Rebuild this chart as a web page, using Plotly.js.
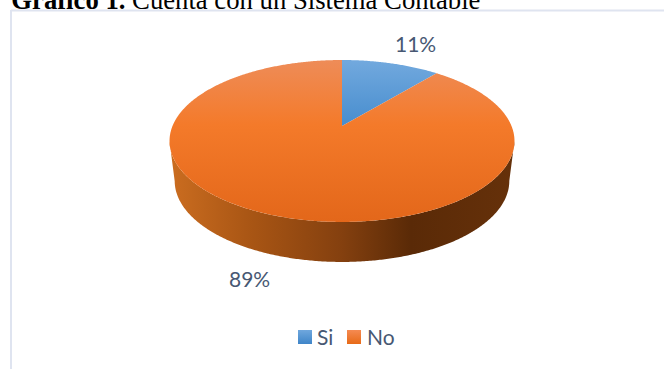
<!DOCTYPE html>
<html>
<head>
<meta charset="utf-8">
<script src="https://cdn.plot.ly/plotly-3.0.1.min.js"></script>
<style>html,body{margin:0;padding:0;background:#fff;overflow:hidden}#chart{width:664px;height:369px}</style>
</head>
<body>
<div id="chart"></div>
<script>
// Survey result: does the business have an accounting system?
const categories = ['Si', 'No'];
const shares = [11, 89];
// Gradient stops run from the near edge of the disc to the far edge.
const sliceGradients = [
  [[0, '#478dce'], [1, '#72a9de']],
  [[0, '#e3671a'], [0.6, '#f47a2a'], [1, '#ee8c58']]
];
const keyColors = [['#6fa7dd', '#3f85c8'], ['#f58a52', '#e76a17']];
const labelFont = {family: 'Lato, Carlito, sans-serif', size: 21, color: '#475873'};

// Tilted disc: a unit circle seen in perspective, mapped on to the plot.
const cam = {cx: 342, cy: 126, sx: 169.5, sy: 78.2, k: 0.185, depth: 40, baseScale: 0.97};

function project(deg, r) {
  const t = deg * Math.PI / 180;
  const u = r * Math.sin(t), v = r * Math.cos(t);
  const w = 1 + cam.k * v;
  return [cam.cx + cam.sx * u / w, cam.cy - cam.sy * v / w];
}
function projectBase(deg) {
  const [x, y] = project(deg, 1);
  return [cam.cx + cam.baseScale * (x - cam.cx), y + cam.depth];
}
function wedge(from, to) {
  const xs = [cam.cx], ys = [cam.cy];
  for (let d = from; d < to; d += 0.5) {
    const p = project(d, 1); xs.push(p[0]); ys.push(p[1]);
  }
  const e = project(to, 1); xs.push(e[0]); ys.push(e[1]);
  xs.push(cam.cx); ys.push(cam.cy);
  return {xs, ys};
}

// The rim runs along the near side of the disc, between its widest points.
const rimStart = 90 + Math.asin(cam.k) * 180 / Math.PI;
const rimEnd = 360 - rimStart;
const rimX = [], rimY = [], baseX = [], baseY = [];
for (let d = rimStart; d <= rimEnd; d += 0.5) {
  const a = project(d, 1), b = projectBase(d);
  rimX.push(a[0]); rimY.push(a[1]);
  baseX.push(b[0]); baseY.push(b[1]);
}
const wall = {
  type: 'scatter', mode: 'none', hoverinfo: 'skip', showlegend: false,
  x: rimX.concat(baseX.slice().reverse(), rimX[0]),
  y: rimY.concat(baseY.slice().reverse(), rimY[0]),
  fill: 'toself',
  fillgradient: {
    type: 'horizontal',
    colorscale: [[0, '#cb6d20'], [0.24, '#a85514'], [0.5, '#84400f'], [0.7, '#5a2a07'], [1, '#66310a']]
  }
};

// Top face: one wedge per category, clockwise from twelve o'clock.
const total = shares.reduce((a, b) => a + b, 0);
let start = 0;
const faces = shares.map((value, i) => {
  const end = start + value / total * 360;
  const shape = wedge(start, end);
  start = end;
  return {
    type: 'scatter', mode: 'none', name: categories[i], hoverinfo: 'name', showlegend: false,
    x: shape.xs, y: shape.ys, fill: 'toself',
    fillgradient: {type: 'vertical', colorscale: sliceGradients[i]}
  };
});

// Legend keys below the pie.
const keyX = [305, 354], textX = [317, 367], legendY = 337;
const keys = categories.map((name, i) => ({
  type: 'scatter', mode: 'markers', hoverinfo: 'skip', showlegend: false,
  x: [keyX[i]], y: [legendY],
  marker: {
    symbol: 'square', size: 14, color: keyColors[i][0],
    gradient: {type: 'vertical', color: keyColors[i][1]}, line: {width: 0}
  }
}));

const labelPos = [[415, 43], [249, 278.5]];
const annotations = shares.map((value, i) => ({
  xref: 'x', yref: 'y', x: labelPos[i][0], y: labelPos[i][1],
  text: value + '%', showarrow: false, font: labelFont
})).concat(categories.map((name, i) => ({
  xref: 'x', yref: 'y', x: textX[i], y: legendY - 1, xanchor: 'left',
  text: name, showarrow: false, font: labelFont, xshift: -2
})));

const frame = {color: '#dfe4f0', width: 2};
const layout = {
  width: 664, height: 369,
  margin: {l: 0, r: 0, t: 0, b: 0},
  paper_bgcolor: '#ffffff', plot_bgcolor: '#ffffff',
  showlegend: false,
  title: {
    text: '<b>Gráfico 1.</b> Cuenta con un Sistema Contable',
    font: {family: '"Liberation Serif", serif', size: 26.7, color: '#000000'},
    x: 0.017, xanchor: 'left', xref: 'paper',
    y: 1.016, yanchor: 'middle', yref: 'container'
  },
  xaxis: {range: [0, 664], visible: false, fixedrange: true},
  yaxis: {range: [369, 0], visible: false, fixedrange: true},
  annotations,
  shapes: [
    {type: 'line', xref: 'x', yref: 'y', x0: 11, x1: 664, y0: 10.5, y1: 10.5, line: frame},
    {type: 'line', xref: 'x', yref: 'y', x0: 11, x1: 11, y0: 10, y1: 369, line: frame}
  ]
};

Plotly.newPlot('chart', [wall, ...faces, ...keys], layout, {displayModeBar: false, staticPlot: true});
</script>
</body>
</html>
